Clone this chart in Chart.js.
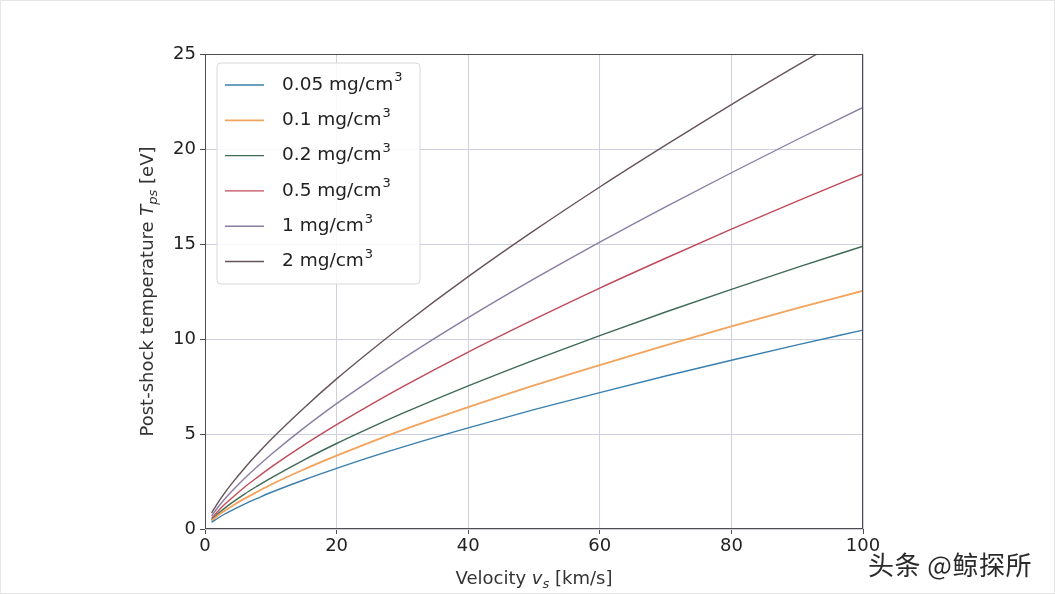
<!DOCTYPE html>
<html>
<head>
<meta charset="utf-8">
<script src="https://cdn.jsdelivr.net/npm/chart.js@4.4.1/dist/chart.umd.min.js"></script>
<style>
  html, body { margin: 0; padding: 0; background: #ffffff; }
  #wrap { position: relative; width: 1055px; height: 594px; overflow: hidden; }
  canvas { display: block; }
  #frame { position: absolute; left: 0; top: 0; width: 1053px; height: 592px; border: 1px solid #e6e6e6; pointer-events: none; }
  #wm { position: absolute; left: 868px; top: 545px; font-family: "Noto Sans CJK SC", sans-serif; font-size: 26px; color: #2a2a2a; letter-spacing: 0.5px; text-shadow: 0 0 2px #fff, 0 0 2px #fff; }
</style>
</head>
<body>
<div id="wrap">
  <canvas id="c" width="1055" height="594"></canvas>
  <div id="frame"></div>
  <div id="wm">头条 @鲸探所</div>
</div>
<script>
// ---- data ----
const velocity = [1, 2, 3, 4, 6, 8, 10, 15, 20, 25, 30, 40, 50, 60, 70, 80, 90, 100];
const labels = ['0.05 mg/cm³', '0.1 mg/cm³', '0.2 mg/cm³', '0.5 mg/cm³', '1 mg/cm³', '2 mg/cm³'];
const t005 = [0.35, 0.58, 0.79, 0.97, 1.31, 1.62, 1.92, 2.58, 3.19, 3.77, 4.31, 5.32, 6.28, 7.18, 8.05, 8.88, 9.69, 10.47];
const t01  = [0.43, 0.72, 0.96, 1.19, 1.60, 1.97, 2.33, 3.13, 3.86, 4.55, 5.20, 6.41, 7.56, 8.63, 9.66, 10.66, 11.62, 12.54];
const t02  = [0.48, 0.81, 1.10, 1.36, 1.84, 2.27, 2.68, 3.63, 4.50, 5.31, 6.08, 7.53, 8.89, 10.18, 11.42, 12.61, 13.77, 14.88];
const t05  = [0.56, 0.95, 1.30, 1.61, 2.20, 2.73, 3.24, 4.41, 5.49, 6.51, 7.48, 9.31, 11.03, 12.68, 14.25, 15.78, 17.26, 18.69];
const t1   = [0.69, 1.16, 1.58, 1.96, 2.66, 3.30, 3.91, 5.31, 6.60, 7.80, 8.95, 11.12, 13.16, 15.10, 16.96, 18.75, 20.50, 22.19];
const t2   = [0.84, 1.40, 1.90, 2.36, 3.20, 3.97, 4.70, 6.36, 7.90, 9.33, 10.70, 13.28, 15.70, 18.00, 20.20, 22.34, 24.40, 26.40];
const xTicks = [0, 20, 40, 60, 80, 100];
const yTicks = [0, 5, 10, 15, 20, 25];

const series = [t005, t01, t02, t05, t1, t2];
const colors = ['#3a7fae', '#f2a35c', '#3f6a55', '#c04a5a', '#8a7ca2', '#66545a'];

const FONT = '"DejaVu Sans", sans-serif';
const TXT = '#222222';

const datasets = series.map((s, i) => ({
  label: labels[i],
  data: velocity.map((v, k) => ({x: v, y: s[k]})),
  borderColor: colors[i],
  backgroundColor: colors[i],
  borderWidth: i === 1 ? 1.8 : 1.4,
  pointRadius: 0,
  tension: 0.4,
  cubicInterpolationMode: 'monotone',
  fill: false
}));

const decor = {
  id: 'decor',
  afterDraw(chart) {
    const ctx = chart.ctx;
    const a = chart.chartArea;
    ctx.save();
    // spines
    ctx.strokeStyle = '#4d4d4d';
    ctx.lineWidth = 1;
    ctx.strokeRect(a.left + 0.5, a.top + 0.5, a.right - a.left - 1, a.bottom - a.top - 1);

    // legend box
    const lx = 217, ly = 63, lw = 203, lh = 221;
    ctx.beginPath();
    const r = 4;
    ctx.moveTo(lx + r, ly);
    ctx.lineTo(lx + lw - r, ly); ctx.quadraticCurveTo(lx + lw, ly, lx + lw, ly + r);
    ctx.lineTo(lx + lw, ly + lh - r); ctx.quadraticCurveTo(lx + lw, ly + lh, lx + lw - r, ly + lh);
    ctx.lineTo(lx + r, ly + lh); ctx.quadraticCurveTo(lx, ly + lh, lx, ly + lh - r);
    ctx.lineTo(lx, ly + r); ctx.quadraticCurveTo(lx, ly, lx + r, ly);
    ctx.closePath();
    ctx.fillStyle = 'rgba(255,255,255,0.85)';
    ctx.fill();
    ctx.strokeStyle = '#d8d8d8';
    ctx.stroke();
    chart.data.datasets.forEach((ds, i) => {
      const y = 85 + i * 35.3;
      ctx.strokeStyle = ds.borderColor;
      ctx.lineWidth = ds.borderWidth;
      ctx.beginPath(); ctx.moveTo(225, y); ctx.lineTo(264, y); ctx.stroke();
      ctx.fillStyle = TXT;
      ctx.textBaseline = 'middle';
      ctx.textAlign = 'left';
      const lab = ds.label;
      const base = lab.endsWith('³') ? lab.slice(0, -1) : lab;
      ctx.font = '18.5px ' + FONT;
      ctx.fillText(base, 282, y);
      if (base !== lab) {
        const w = ctx.measureText(base).width;
        ctx.font = '13px ' + FONT;
        ctx.fillText('3', 282 + w + 1, y - 7);
      }
    });

    // x axis title: Velocity v_s [km/s]
    ctx.fillStyle = '#333333';
    ctx.textBaseline = 'alphabetic';
    const parts = [
      {t: 'Velocity ', f: '18px ' + FONT, dy: 0},
      {t: 'v', f: 'italic 18px ' + FONT, dy: 0},
      {t: 's', f: 'italic 13px ' + FONT, dy: 4},
      {t: ' [km/s]', f: '18px ' + FONT, dy: 0}
    ];
    let total = 0;
    parts.forEach(p => { ctx.font = p.f; total += ctx.measureText(p.t).width; });
    let x = (a.left + a.right) / 2 - total / 2;
    const by = 584;
    parts.forEach(p => { ctx.font = p.f; ctx.fillText(p.t, x, by + p.dy); x += ctx.measureText(p.t).width; });

    // y axis title: Post-shock temperature T_ps [eV]
    ctx.save();
    ctx.translate(153, (a.top + a.bottom) / 2);
    ctx.rotate(-Math.PI / 2);
    const yparts = [
      {t: 'Post-shock temperature ', f: '18px ' + FONT, dy: 0},
      {t: 'T', f: 'italic 18px ' + FONT, dy: 0},
      {t: 'ps', f: 'italic 13px ' + FONT, dy: 4},
      {t: ' [eV]', f: '18px ' + FONT, dy: 0}
    ];
    total = 0;
    yparts.forEach(p => { ctx.font = p.f; total += ctx.measureText(p.t).width; });
    x = -total / 2;
    yparts.forEach(p => { ctx.font = p.f; ctx.fillText(p.t, x, p.dy); x += ctx.measureText(p.t).width; });
    ctx.restore();

    ctx.restore();
  }
};

new Chart(document.getElementById('c'), {
  type: 'line',
  data: { datasets },
  options: {
    responsive: false,
    animation: false,
    layout: { padding: { left: 0, top: 54, right: 192, bottom: 0 } },
    plugins: { legend: { display: false }, tooltip: { enabled: false } },
    scales: {
      x: {
        type: 'linear', min: 0, max: 100,
        afterFit(s) { s.height = 65; },
        afterBuildTicks(s) { s.ticks = xTicks.map(v => ({value: v})); },
        grid: { color: '#cfd0de', lineWidth: 1, drawTicks: true, tickLength: 5, tickColor: '#4d4d4d' },
        border: { display: false },
        ticks: { color: TXT, font: { family: FONT, size: 18 }, padding: 2, maxRotation: 0, autoSkip: false }
      },
      y: {
        type: 'linear', min: 0, max: 25,
        afterFit(s) { s.width = 205; },
        afterBuildTicks(s) { s.ticks = yTicks.map(v => ({value: v})); },
        grid: { color: '#cfd0de', lineWidth: 1, drawTicks: true, tickLength: 5, tickColor: '#4d4d4d' },
        border: { display: false },
        ticks: { color: TXT, font: { family: FONT, size: 18 }, padding: 4, autoSkip: false }
      }
    }
  },
  plugins: [decor]
});
</script>
</body>
</html>
